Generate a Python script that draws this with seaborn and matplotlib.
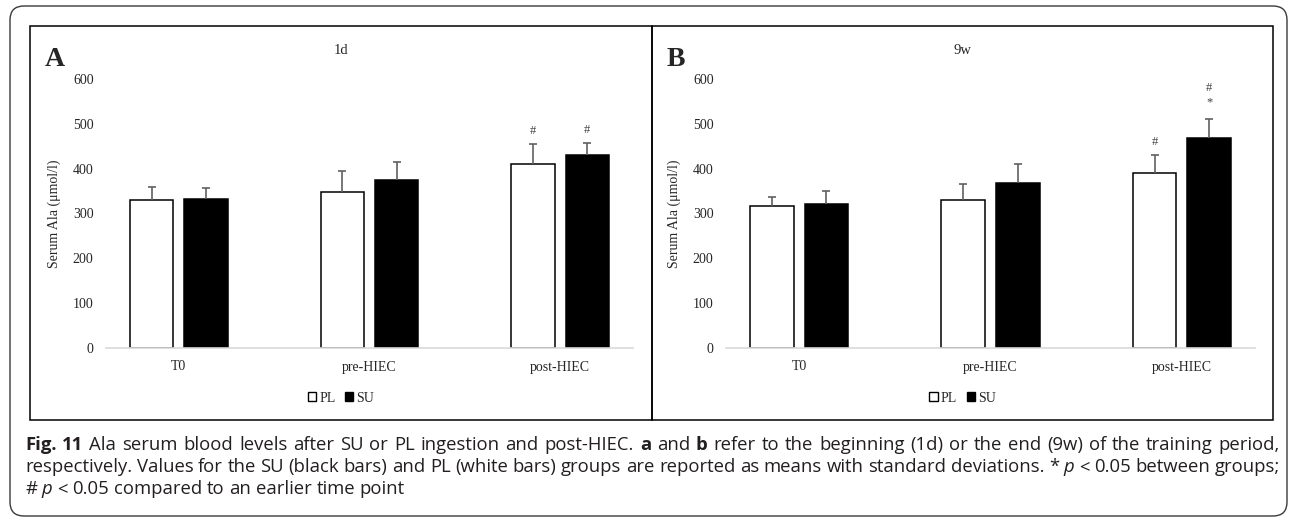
import matplotlib
matplotlib.use("Agg")
import matplotlib.pyplot as plt
import numpy as np
import pandas as pd
import seaborn as sns
from matplotlib import font_manager
from matplotlib.patches import Rectangle, FancyBboxPatch
from matplotlib.transforms import IdentityTransform

# ---------------- data ----------------
timepoints = ["T0", "pre-HIEC", "post-HIEC"]
groups = ["PL", "SU"]
y_ticks = [0, 100, 200, 300, 400, 500, 600]

# 1d: serum Ala (umol/l), mean and SD
day1_pl_mean = [329, 348, 410]
day1_pl_sd = [31, 46, 45]
day1_su_mean = [333, 375, 430]
day1_su_sd = [23, 39, 27]
day1_pl_marks = [[], [], ["#"]]
day1_su_marks = [[], [], ["#"]]

# 9w: serum Ala (umol/l), mean and SD
week9_pl_mean = [317, 329, 391]
week9_pl_sd = [19, 37, 39]
week9_su_mean = [321, 368, 469]
week9_su_sd = [30, 43, 42]
week9_pl_marks = [[], [], ["#"]]
week9_su_marks = [[], [], ["*", "#"]]

# ---------------- style ----------------
sns.set_style("white")
plt.rcParams["font.family"] = ["Liberation Serif", "DejaVu Serif"]

installed = {f.name for f in font_manager.fontManager.ttflist}
caption_font = "Liberation Sans Narrow" if "Liberation Sans Narrow" in installed else "Open Sans"

W, H = 1290, 517
fig = plt.figure(figsize=(W / 100, H / 100), dpi=100)
fig.patch.set_facecolor("white")


def axes_px(left, top, right, bottom):
    return fig.add_axes([left / W, 1 - bottom / H, (right - left) / W, (bottom - top) / H])


def draw_panel(ax, pl_mean, pl_sd, su_mean, su_sd, pl_marks, su_marks,
               title, letter, box_left, box_right):
    df = pd.DataFrame({
        "Time": timepoints * 2,
        "Group": ["PL"] * len(timepoints) + ["SU"] * len(timepoints),
        "Ala": pl_mean + su_mean,
    })
    sns.barplot(data=df, x="Time", y="Ala", hue="Group", order=timepoints,
                hue_order=groups, palette={"PL": "white", "SU": "black"},
                edgecolor="black", linewidth=1.1, width=0.57, gap=0.2,
                errorbar=None, ax=ax)

    sds = {"PL": pl_sd, "SU": su_sd}
    marks = {"PL": pl_marks, "SU": su_marks}
    for grp, cont in zip(groups, ax.containers):
        for bar in cont:
            xc = bar.get_x() + bar.get_width() / 2
            i = int(round(xc))
            top = bar.get_height()
            sd = sds[grp][i]
            _, caps, _ = ax.errorbar(xc, top, yerr=[[0], [sd]], fmt="none",
                                     ecolor="#606060", elinewidth=1.2,
                                     capsize=2.8, capthick=1.2, zorder=3)
            caps[0].set_visible(False)
            for k, sym in enumerate(marks[grp][i]):
                off = 30 if k == 0 else 30 + 40 * k
                if sym == "*":
                    off += 6
                ax.text(xc, top + sd + off, sym, ha="center", va="center",
                        fontsize=9, color="#404040")

    ax.set_ylim(0, 600)
    ax.set_yticks(y_ticks)
    ax.set_xlabel("")
    ax.set_ylabel("Serum Ala (\u03bcmol/l)", fontsize=10)
    ax.yaxis.set_label_coords(-0.085, 0.5)
    ax.tick_params(axis="both", length=0, labelsize=10)
    ax.tick_params(axis="y", pad=9)
    ax.tick_params(axis="x", pad=9)
    for s in ["top", "right", "left"]:
        ax.spines[s].set_visible(False)
    ax.spines["bottom"].set_color("#d9d9d9")
    ax.spines["bottom"].set_linewidth(1.2)
    ax.set_facecolor("none")

    cx = (box_left + box_right) / 2
    sns.move_legend(ax, "center", bbox_to_anchor=(cx / W, 1 - 398 / H),
                    bbox_transform=fig.transFigure, ncol=2, title=None,
                    frameon=False, fontsize=10, handlelength=0.6,
                    handleheight=0.6, handletextpad=0.2, columnspacing=0.7)
    for h in ax.get_legend().legend_handles:
        h.set_edgecolor("black")
        h.set_linewidth(1.0)

    fig.text(cx / W, 1 - 51 / H, title, ha="center", va="center", fontsize=10.5)
    fig.text((box_left + 15) / W, 1 - 66 / H, letter, ha="left", va="baseline",
             fontsize=20, fontweight="bold")

    fig.add_artist(Rectangle((box_left, H - 420), box_right - box_left, 394,
                             transform=IdentityTransform(), fill=False,
                             edgecolor="black", linewidth=1.1))


ax_a = axes_px(106, 79, 633, 348)
draw_panel(ax_a, day1_pl_mean, day1_pl_sd, day1_su_mean, day1_su_sd,
           day1_pl_marks, day1_su_marks, "1d", "A", 30, 652)

ax_b = axes_px(726, 79, 1255, 348)
draw_panel(ax_b, week9_pl_mean, week9_pl_sd, week9_su_mean, week9_su_sd,
           week9_pl_marks, week9_su_marks, "9w", "B", 652, 1273)

# outer rounded frame
fig.add_artist(FancyBboxPatch((10, 1), 1277, 510,
                              boxstyle="round,pad=0,rounding_size=14",
                              transform=IdentityTransform(), fill=False,
                              edgecolor="#3a3a3a", linewidth=1.0))

# ---------------- caption ----------------
renderer = fig.canvas.get_renderer()
cap_color = "#231f20"
cap_left, cap_right = 25, 1280
cap_size = 12.0


def style_kw(style, size):
    kw = dict(fontsize=size, family=[caption_font, "DejaVu Sans"], color=cap_color)
    if style == "b":
        kw["fontweight"] = "bold"
    elif style == "i":
        kw["fontstyle"] = "italic"
    return kw


def text_width(s, style, size):
    t = fig.text(0, 0, s, **style_kw(style, size))
    w = t.get_window_extent(renderer).width
    t.remove()
    return w


def tokens(runs):
    out = []
    for s, st in runs:
        for w in s.split():
            out.append((w, st))
    return out


def natural_width(runs, size):
    toks = tokens(runs)
    sp = text_width("x x", "n", size) - text_width("xx", "n", size)
    return sum(text_width(w, st, size) for w, st in toks) + sp * (len(toks) - 1)


def draw_line(runs, y_px, size, x0, x1=None):
    toks = tokens(runs)
    widths = [text_width(w, st, size) for w, st in toks]
    sp = text_width("x x", "n", size) - text_width("xx", "n", size)
    if x1 is not None and len(toks) > 1:
        gap = (x1 - x0 - sum(widths)) / (len(toks) - 1)
    else:
        gap = sp
    x = x0
    for (w, st), wd in zip(toks, widths):
        fig.text(x / W, 1 - y_px / H, w, ha="left", va="baseline", **style_kw(st, size))
        x += wd + gap


line1 = [("Fig. 11", "b"),
         ("Ala serum blood levels after SU or PL ingestion and post-HIEC.", "n"),
         ("a", "b"), ("and", "n"), ("b", "b"),
         ("refer to the beginning (1d) or the end (9w) of the training period,", "n")]
line2 = [("respectively. Values for the SU (black bars) and PL (white bars) groups are "
          "reported as means with standard deviations. *", "n"),
         ("p", "i"), ("< 0.05 between groups;", "n")]
line3 = [("#", "n"), ("p", "i"), ("< 0.05 compared to an earlier time point", "n")]

# size the caption so its widest line fills the frame with normal word spacing
widest = max(natural_width(line1, cap_size), natural_width(line2, cap_size))
cap_size = cap_size * (cap_right - cap_left) / widest * 0.995

draw_line(line1, 450, cap_size, cap_left, cap_right)
draw_line(line2, 472, cap_size, cap_left, cap_right)
draw_line(line3, 494, cap_size, cap_left)

fig.savefig("out.png", dpi=100)
